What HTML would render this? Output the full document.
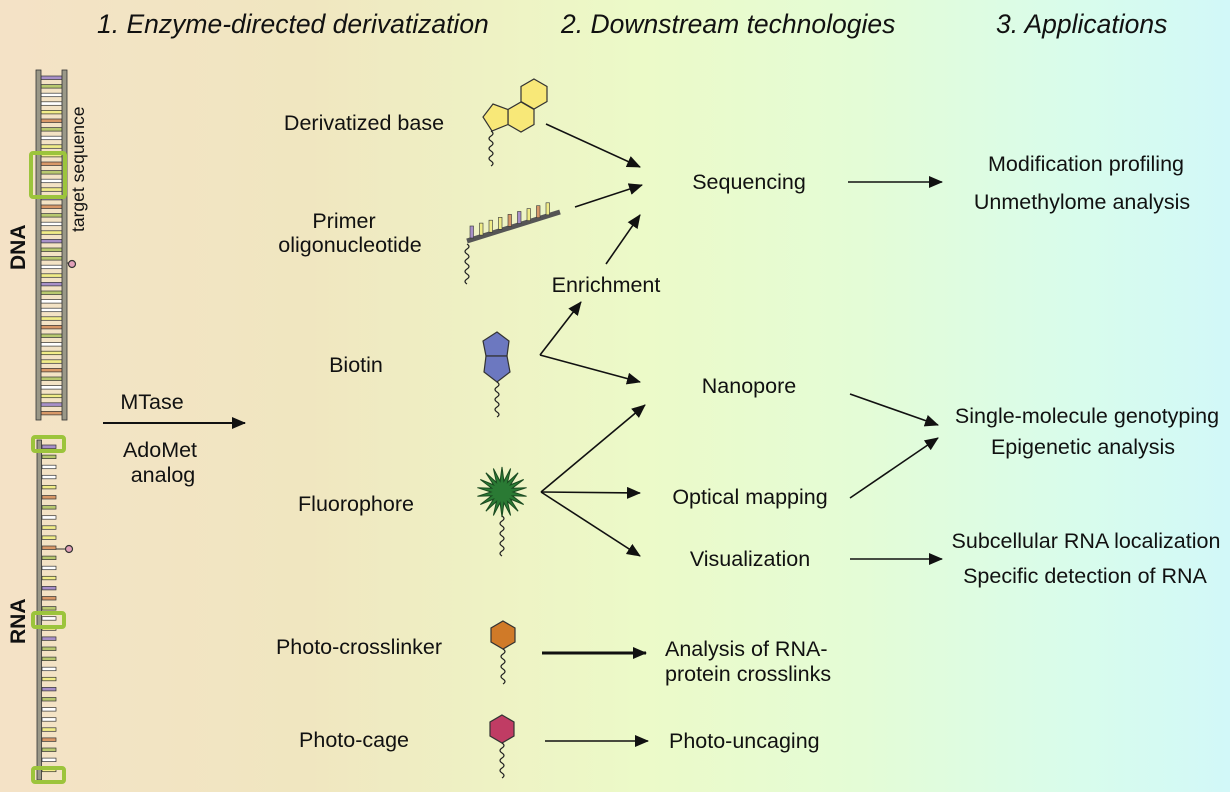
<!DOCTYPE html>
<html><head><meta charset="utf-8"><style>
html,body{margin:0;padding:0}
body{width:1230px;height:792px;overflow:hidden;background:linear-gradient(90deg,#f4e2c6 0%,#f0e6c0 25%,#eef2c4 40%,#ecfac8 52%,#e4fcd6 70%,#d8fcec 88%,#d2f8f8 100%);font-family:"Liberation Sans",sans-serif}
svg{position:absolute;left:0;top:0}
text{font-family:"Liberation Sans",sans-serif;fill:#111}
.h{font-size:26.5px;font-style:italic}
.l{font-size:21.5px}
</style></head><body>
<svg width="1230" height="792" viewBox="0 0 1230 792" xmlns="http://www.w3.org/2000/svg">
<defs>
<marker id="a" markerWidth="14" markerHeight="12" refX="13" refY="6" orient="auto" markerUnits="userSpaceOnUse"><path d="M0,0 L14,6 L0,12 Z" fill="#111"/></marker>
</defs>
<g id="dna"></g>
<g id="rna"></g>
<text class="h" x="97" y="33">1. Enzyme-directed derivatization</text>
<text class="h" x="561" y="33">2. Downstream technologies</text>
<text class="h" x="996" y="33">3. Applications</text>
<text x="0" y="0" font-size="21" font-weight="bold" transform="translate(25,270) rotate(-90)">DNA</text>
<text x="0" y="0" font-size="21" font-weight="bold" transform="translate(25,644) rotate(-90)">RNA</text>
<text x="0" y="0" font-size="17.5" transform="translate(84,232) rotate(-90)">target sequence</text>
<g class="l" text-anchor="middle">
<text x="364" y="130">Derivatized base</text>
<text x="344" y="228">Primer</text>
<text x="350" y="252">oligonucleotide</text>
<text x="356" y="372">Biotin</text>
<text x="356" y="511">Fluorophore</text>
<text x="359" y="654">Photo-crosslinker</text>
<text x="354" y="747">Photo-cage</text>
<text x="152" y="409">MTase</text>
<text x="160" y="457">AdoMet</text>
<text x="163" y="482">analog</text>
<text x="749" y="189">Sequencing</text>
<text x="606" y="292">Enrichment</text>
<text x="749" y="393">Nanopore</text>
<text x="750" y="504">Optical mapping</text>
<text x="750" y="566">Visualization</text>
<text x="1086" y="171">Modification profiling</text>
<text x="1082" y="209">Unmethylome analysis</text>
<text x="1087" y="423">Single-molecule genotyping</text>
<text x="1083" y="454">Epigenetic analysis</text>
<text x="1086" y="548">Subcellular RNA localization</text>
<text x="1085" y="583">Specific detection of RNA</text>
</g>
<g class="l">
<text x="665" y="656">Analysis of RNA-</text>
<text x="665" y="681">protein crosslinks</text>
<text x="669" y="748">Photo-uncaging</text>
</g>
<g stroke="#111" stroke-width="1.6" fill="none" marker-end="url(#a)">
<line x1="103" y1="423" x2="245" y2="423" stroke-width="2"/>
<line x1="546" y1="124" x2="640" y2="167"/>
<line x1="575" y1="207" x2="642" y2="185"/>
<line x1="606" y1="264" x2="640" y2="215"/>
<line x1="848" y1="182" x2="942" y2="182"/>
<line x1="850" y1="394" x2="938" y2="425"/>
<line x1="850" y1="498" x2="938" y2="438"/>
<line x1="850" y1="559" x2="942" y2="559"/>
<line x1="542" y1="653" x2="646" y2="653" stroke-width="3"/>
<line x1="545" y1="741" x2="648" y2="741"/>
<line x1="541" y1="492" x2="645" y2="405"/>
<line x1="541" y1="492" x2="640" y2="493"/>
<line x1="541" y1="492" x2="640" y2="556"/>
<line x1="540" y1="355" x2="640" y2="382"/>
<line x1="540" y1="355" x2="581" y2="302"/>
</g>
<g stroke="#333" stroke-width="1.2">
<polygon points="534,79 547,86.5 547,101.5 534,109 521,101.5 521,86.5" fill="#f8e878"/>
<polygon points="521,102 534,109.5 534,124.5 521,132 508,124.5 508,109.5" fill="#f8e878"/>
<polygon points="508,109.5 508,124.5 492,131 483,117 493,104" fill="#f8e878"/>
<line x1="467" y1="241" x2="560" y2="212" stroke="#555" stroke-width="5"/>
<polygon points="497,332 509,341 507,356 486,356 483,341" fill="#6c78c0"/>
<polygon points="486,356 507,356 510,372 497,382 484,372" fill="#6c78c0"/>
<polygon points="503,621 515,628 515,642 503,649 491,642 491,628" fill="#d07a28"/>
<polygon points="502,715 514,722 514,736 502,743 490,736 490,722" fill="#c03c64"/>
</g>
<polygon id="star" fill="#2a7a34" stroke="#1a4a20" stroke-width="1"/>
<g id="ticks"></g>
<g id="waves" stroke="#222" stroke-width="1.2" fill="none"></g>
</svg>
<script>
var NS="http://www.w3.org/2000/svg";
function el(p,t,a){var e=document.createElementNS(NS,t);for(var k in a)e.setAttribute(k,a[k]);p.appendChild(e);return e;}
var cols=["#a890c8","#b8c870","#f0ec88","#d89868","#ffffff","#f0ec88","#b8c870","#ffffff"];
var d=document.getElementById("dna");
for(var y=76,i=0;y<416;y+=8.6,i++){
el(d,"rect",{x:41,y:y,width:21,height:3.5,fill:cols[(i*5+i%3)%8],stroke:"#333","stroke-width":0.7});}
el(d,"rect",{x:36,y:70,width:5,height:350,fill:"#9a9888",stroke:"#333","stroke-width":0.8});
el(d,"rect",{x:62,y:70,width:5,height:350,fill:"#9a9888",stroke:"#333","stroke-width":0.8});
el(d,"rect",{x:31,y:153,width:34,height:44,fill:"none",stroke:"#9cc43c","stroke-width":4,rx:2});
el(d,"line",{x1:67,y1:263,x2:71,y2:263,stroke:"#333"});
el(d,"circle",{cx:72,cy:264,r:3.5,fill:"#e0a0b8",stroke:"#333","stroke-width":1.2});
var r=document.getElementById("rna");
for(var y=445,i=0;y<778;y+=10.1,i++){
el(r,"rect",{x:42,y:y,width:14,height:3.5,fill:cols[(i*5+i%3)%8],stroke:"#333","stroke-width":0.7});}
el(r,"rect",{x:37,y:440,width:4.5,height:340,fill:"#9a9888",stroke:"#333","stroke-width":0.8});
[437,613,768].forEach(function(a){el(r,"rect",{x:33,y:a,width:31,height:14,fill:"none",stroke:"#9cc43c","stroke-width":4,rx:2});});
el(r,"line",{x1:56,y1:549,x2:66,y2:549,stroke:"#333"});
el(r,"circle",{cx:69,cy:549,r:3.5,fill:"#e0a0b8",stroke:"#333","stroke-width":1.2});
var pts=[];for(var k=0;k<36;k++){var a=k*Math.PI/18-Math.PI/2,rr=k%2?11:25;pts.push((502+rr*Math.cos(a)).toFixed(1)+","+(492+rr*Math.sin(a)).toFixed(1));}
document.getElementById("star").setAttribute("points",pts.join(" "));
var t=document.getElementById("ticks"),tc=["#a890c8","#f0ec88","#f0ec88","#f0ec88","#d89868","#a890c8","#f0ec88","#d89868","#f0ec88"];
for(var k=0;k<9;k++){var x=470+k*9.5,yb=238-k*2.9;el(t,"rect",{x:x,y:yb-12,width:3.5,height:12,fill:tc[k],stroke:"#333","stroke-width":0.6});}
var w=document.getElementById("waves");
function wave(x,y1,y2){var s="M"+x+","+y1,y=y1,f=1;while(y<y2){s+=" q"+(4*f)+",2.5 0,5";y+=5;f=-f;}el(w,"path",{d:s});}
wave(491,131,165);wave(467,244,280);wave(497,382,414);wave(502,516,552);wave(503,649,683);wave(502,743,775);
</script>
</body></html>
